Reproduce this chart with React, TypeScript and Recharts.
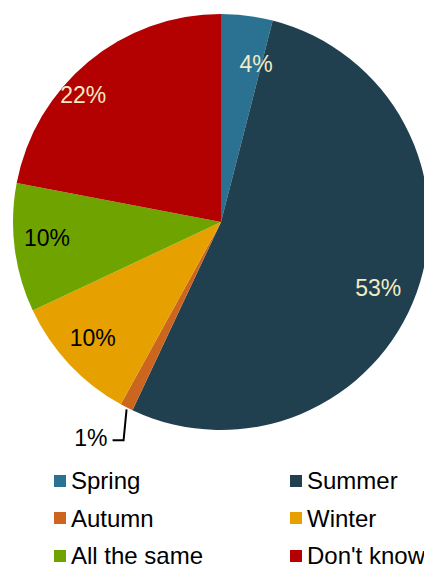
import React from "react";
import { PieChart, Pie, Cell } from "recharts";

const categories = ["Spring", "Summer", "Autumn", "Winter", "All the same", "Don't know"];
const shares = [4, 53, 1, 10, 10, 22];

const COLORS = ["#2b7191", "#21404f", "#cc661e", "#e6a100", "#6fa400", "#b30000"];
const LABEL_COLORS = ["#f1ebc6", "#f1ebc6", "#000", "#000", "#000", "#f1ebc6"];

// label nudges (ratio of radius, clockwise degrees) so they sit where the original puts them
const LABEL_TWEAK: Record<string, { ratio: number; shift: number }> = {
  Spring: { ratio: 0.78, shift: 5.3 },
  Summer: { ratio: 0.82, shift: 3 },
  Winter: { ratio: 0.83, shift: 1.2 },
  "All the same": { ratio: 0.84, shift: 2 },
  "Don't know": { ratio: 0.9, shift: -7.8 },
};

const data = categories.map((name, i) => ({ name, value: shares[i] }));

const RAD = Math.PI / 180;
const font = "'Liberation Sans', Arial, sans-serif";

function renderLabel(props: any) {
  const { cx, cy, midAngle, outerRadius, index, value } = props;
  const name = categories[index];
  if (name === "Autumn") {
    const ex = cx + outerRadius * Math.cos(-midAngle * RAD);
    const ey = cy - outerRadius * Math.sin(midAngle * RAD);
    return (
      <g>
        <polyline
          points={`${ex},${ey + 2} ${ex - 3},${ey + 33} ${ex - 14},${ey + 33}`}
          fill="none"
          stroke="#000"
          strokeWidth={2}
        />
        <text x={ex - 19} y={ey + 31} textAnchor="end" dominantBaseline="central" fontSize={23} fontFamily={font} fill="#000">
          {value}%
        </text>
      </g>
    );
  }
  const t = LABEL_TWEAK[name];
  const a = midAngle - t.shift;
  const r = outerRadius * t.ratio;
  const x = cx + r * Math.cos(a * RAD);
  const y = cy - r * Math.sin(a * RAD);
  return (
    <text x={x} y={y} textAnchor="middle" dominantBaseline="central" fontSize={23} fontFamily={font} fill={LABEL_COLORS[index]}>
      {value}%
    </text>
  );
}

export default function App() {
  return (
    <div style={{ position: "absolute", left: 0, top: 0, width: 424, height: 564, background: "#fff", overflow: "hidden" }}>
      <PieChart width={424} height={564} margin={{ top: 0, right: 0, bottom: 0, left: 0 }}>
        <Pie
          data={data}
          dataKey="value"
          nameKey="name"
          cx={221}
          cy={222}
          outerRadius={208}
          startAngle={90}
          endAngle={-270}
          stroke="none"
          label={renderLabel}
          labelLine={false}
          isAnimationActive={false}
        >
          {data.map((d, i) => (
            <Cell key={d.name} fill={COLORS[i]} />
          ))}
        </Pie>
      </PieChart>
      <div
        style={{
          position: "absolute",
          left: 54,
          top: 468,
          display: "grid",
          gridTemplateColumns: "236px 150px",
          rowGap: 11.5,
          fontFamily: font,
          fontSize: 24,
          color: "#000",
          lineHeight: "26px",
        }}
      >
        {categories.map((c, i) => (
          <div key={c} style={{ display: "flex", alignItems: "center", whiteSpace: "nowrap" }}>
            <span style={{ width: 12, height: 12, background: COLORS[i], marginRight: 5, marginTop: -1, flexShrink: 0 }} />
            {c}
          </div>
        ))}
      </div>
    </div>
  );
}
